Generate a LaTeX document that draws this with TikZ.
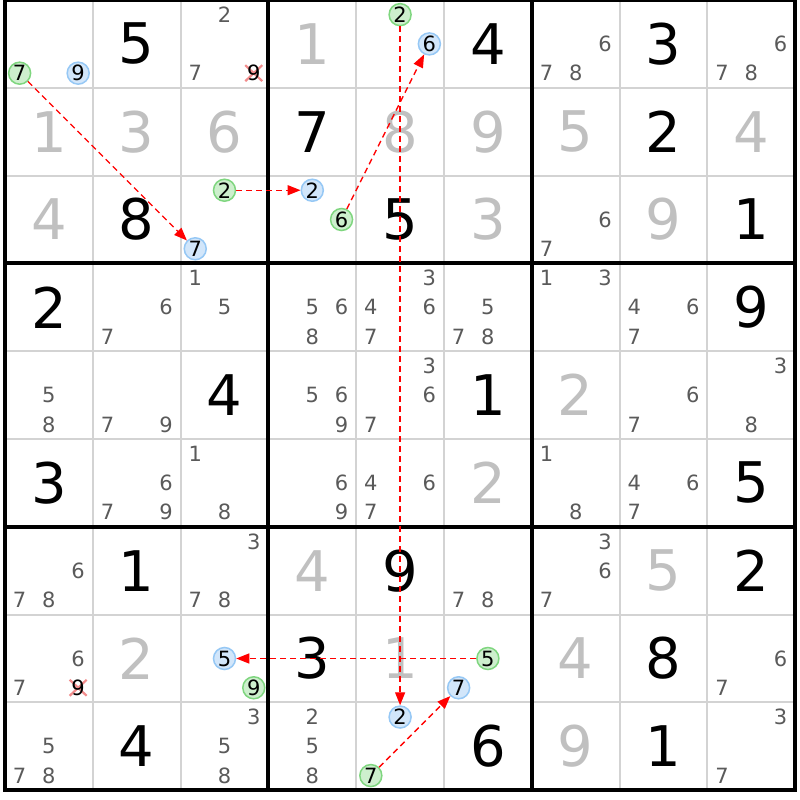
\documentclass[tikz,border=0pt]{standalone}
\usepackage{fontspec}
\setmainfont{DejaVu Sans}
\usetikzlibrary{arrows.meta}
\definecolor{thinc}{HTML}{D3D3D3}
\definecolor{solvedc}{HTML}{C0C0C0}
\definecolor{candc}{HTML}{5A5A5A}
\definecolor{gfill}{HTML}{CDEFCD}
\definecolor{gline}{HTML}{7FD67F}
\definecolor{bfill}{HTML}{D2E6FA}
\definecolor{bline}{HTML}{96C8F5}
\definecolor{xred}{HTML}{F28C8C}
\pgfdeclarelayer{bg}
\pgfsetlayers{bg,main}
\tikzset{
  givend/.style={inner sep=0pt, font=\fontsize{56}{60}\selectfont, text=black},
  solvedd/.style={givend, text=solvedc},
  cand/.style={inner sep=0pt, font=\fontsize{21}{22}\selectfont, text=candc},
  xcand/.style={cand, text=black},
  gcand/.style={cand, circle, minimum size=22pt, draw=gline, fill=gfill, line width=1.5pt, text=black},
  bcand/.style={cand, circle, minimum size=22pt, draw=bline, fill=bfill, line width=1.5pt, text=black},
  thinl/.style={draw=thinc, line width=2pt},
  thickl/.style={draw=black, line width=4pt},
  arr/.style={draw=red, line width=1.3pt, dash pattern=on 6pt off 4pt, -{Triangle[length=13pt,width=10pt,fill=red]}},
  xmark/.style={draw=xred, line width=2.2pt}
}
\begin{document}
\begin{tikzpicture}[x=1pt,y=-1pt]
\useasboundingbox (0,0) rectangle (800,800);
\begin{pgfonlayer}{bg}
\fill[white] (0,0) rectangle (800,800);
\end{pgfonlayer}
% grid
\foreach \i in {1,2,4,5,7,8} {
  \draw[thinl] ({5+\i*87.8},0) -- ({5+\i*87.8},790.2);
  \draw[thinl] (5,{\i*87.8}) -- (795.2,{\i*87.8});
}
\foreach \i in {0,3,6,9} {
  \draw[thickl] ({5+\i*87.8},-2) -- ({5+\i*87.8},792.2);
  \draw[thickl] (3,{\i*87.8}) -- (797.2,{\i*87.8});
}
% given digits
\foreach \r/\c/\d in {1/2/5,1/6/4,1/8/3,2/4/7,2/8/2,3/2/8,3/5/5,3/9/1,4/1/2,4/9/9,5/3/4,5/6/1,6/1/3,6/9/5,7/2/1,7/5/9,7/9/2,8/4/3,8/8/8,9/2/4,9/6/6,9/8/1}
  \node[givend] (g\r\c) at ({5+(\c-0.5)*87.8},{(\r-0.5)*87.8}) {\d};
% solved digits
\foreach \r/\c/\d in {1/4/1,2/1/1,2/2/3,2/3/6,2/5/8,2/6/9,2/7/5,2/9/4,3/1/4,3/6/3,3/8/9,5/7/2,6/6/2,7/4/4,7/8/5,8/2/2,8/5/1,8/7/4,9/7/9}
  \node[solvedd] (g\r\c) at ({5+(\c-0.5)*87.8},{(\r-0.5)*87.8}) {\d};
% plain candidates
\foreach \r/\c/\d in {1/3/2,1/3/7,1/7/6,1/7/7,1/7/8,1/9/6,1/9/7,1/9/8,3/7/6,3/7/7,
  4/2/6,4/2/7,4/3/1,4/3/5,4/4/5,4/4/6,4/4/8,4/5/3,4/5/4,4/5/6,4/5/7,4/6/5,4/6/7,4/6/8,4/7/1,4/7/3,4/8/4,4/8/6,4/8/7,
  5/1/5,5/1/8,5/2/7,5/2/9,5/4/5,5/4/6,5/4/9,5/5/3,5/5/6,5/5/7,5/8/6,5/8/7,5/9/3,5/9/8,
  6/2/6,6/2/7,6/2/9,6/3/1,6/3/8,6/4/6,6/4/9,6/5/4,6/5/6,6/5/7,6/7/1,6/7/8,6/8/4,6/8/6,6/8/7,
  7/1/6,7/1/7,7/1/8,7/3/3,7/3/7,7/3/8,7/6/7,7/6/8,7/7/3,7/7/6,7/7/7,
  8/1/6,8/1/7,8/9/6,8/9/7,9/1/5,9/1/7,9/1/8,9/3/3,9/3/5,9/3/8,9/4/2,9/4/5,9/4/8,9/9/3,9/9/7}
  \node[cand] (c\r\c\d) at ({5+(\c-1)*87.8+(mod(\d-1,3)+0.5)*29.2667},{(\r-1)*87.8+(floor((\d-1)/3)+0.5)*29.2667}) {\d};
% eliminated candidates
\foreach \r/\c/\d in {1/3/9,8/1/9}
  \node[xcand] (c\r\c\d) at ({5+(\c-1)*87.8+(mod(\d-1,3)+0.5)*29.2667},{(\r-1)*87.8+(floor((\d-1)/3)+0.5)*29.2667}) {\d};
% green candidates
\foreach \r/\c/\d in {1/1/7,3/3/2,3/4/6,1/5/2,8/6/5,9/5/7,8/3/9}
  \node[gcand] (c\r\c\d) at ({5+(\c-1)*87.8+(mod(\d-1,3)+0.5)*29.2667},{(\r-1)*87.8+(floor((\d-1)/3)+0.5)*29.2667}) {\d};
% blue candidates
\foreach \r/\c/\d in {1/1/9,3/3/7,3/4/2,1/5/6,9/5/2,8/3/5,8/6/7}
  \node[bcand] (c\r\c\d) at ({5+(\c-1)*87.8+(mod(\d-1,3)+0.5)*29.2667},{(\r-1)*87.8+(floor((\d-1)/3)+0.5)*29.2667}) {\d};
% elimination marks
\begin{pgfonlayer}{bg}
\foreach \n in {c139,c819}
  \draw[xmark] ([shift={(-8.5,-8)}]\n.center) -- ([shift={(8.5,8)}]\n.center)
               ([shift={(-8.5,8)}]\n.center) -- ([shift={(8.5,-8)}]\n.center);
\end{pgfonlayer}
% links
\draw[arr] (c117) -- (c337);
\draw[arr] (c332) -- (c342);
\draw[arr] (c346) -- (c156);
\draw[arr] (c152) -- (c952);
\draw[arr] (c865) -- (c835);
\draw[arr] (c957) -- (c867);
\end{tikzpicture}
\end{document}
